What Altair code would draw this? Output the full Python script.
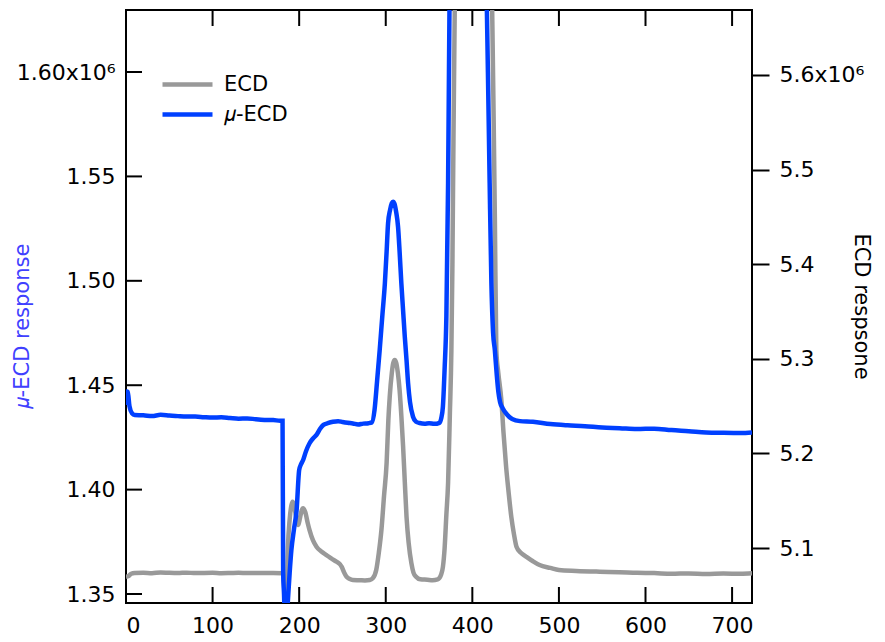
import altair as alt
import pandas as pd

# ECD (right axis, units of 1e6)
t_ecd = [0, 3, 6, 10, 20, 30, 40, 50, 60, 70, 80, 90, 100, 110, 120, 130, 140, 150, 160, 170, 180,
         181.5, 183, 184.5, 185.5, 187, 189, 191, 192.3, 194, 196, 198, 199, 201, 203, 204.5, 207, 210,
         212, 216, 220, 226, 231.5, 237, 243, 247, 249, 252, 254.6, 258, 262, 270, 276, 281.5, 285, 289,
         292, 295, 298, 301, 303, 304.6, 307, 308.5, 310.4, 312, 314, 316, 318, 320, 322, 324, 326.5,
         329.6, 332, 335, 340, 348, 354, 360, 364, 366, 368, 370, 372, 374, 375.8, 377, 380, 400, 420,
         426, 427.7, 430, 433.5, 436, 439, 442, 445, 448, 451, 456, 462, 470, 477.7, 490, 500, 520, 547,
         570, 590, 610, 630, 650, 670, 690, 710, 723]
ecd = [5.0697, 5.0705, 5.0728, 5.0736, 5.0738, 5.0734, 5.0742, 5.0738, 5.0736, 5.0740, 5.0735, 5.0737,
       5.0738, 5.0734, 5.0736, 5.0739, 5.0735, 5.0737, 5.0735, 5.0736, 5.0733,
       5.0715, 5.055, 5.035, 5.045, 5.100, 5.130, 5.145, 5.149, 5.146, 5.135, 5.126, 5.1244, 5.132,
       5.140, 5.142, 5.138, 5.126, 5.119, 5.108, 5.1014, 5.096, 5.0926, 5.089, 5.0856, 5.083, 5.0803,
       5.074, 5.0697, 5.0675, 5.0662, 5.0660, 5.0658, 5.0662, 5.068, 5.0768, 5.095, 5.119, 5.155,
       5.190, 5.235, 5.260, 5.285, 5.295, 5.2988, 5.296, 5.285, 5.267, 5.240, 5.208, 5.170, 5.133,
       5.105, 5.084, 5.074, 5.0697, 5.067, 5.0665, 5.066, 5.0668, 5.072, 5.080, 5.100, 5.135, 5.169,
       5.240, 5.309, 5.400, 5.700, 6.000, 5.800, 5.450, 5.309, 5.285, 5.2565, 5.222, 5.186, 5.158,
       5.133, 5.115, 5.1014, 5.095, 5.091, 5.086, 5.082, 5.079, 5.0768, 5.0758, 5.075, 5.0745, 5.0738,
       5.0735, 5.0728, 5.0732, 5.0726, 5.0730, 5.0728, 5.0733]

# mu-ECD (left axis, units of 1e6)
t_uecd = [0, 1, 2, 4, 7, 10, 20, 30, 40, 50, 60, 70, 80, 90, 100, 110, 120, 130, 140, 150, 160, 170,
          178, 180.8, 181.5, 182.5, 183.5, 185, 187, 189, 191, 194, 197, 200, 202, 204.6, 208, 212,
          216, 220, 224, 228, 233, 239, 245, 250, 256, 262, 268, 274, 280, 284, 287, 290, 293, 296,
          299, 301, 302.7, 305, 307, 308.4, 310, 312, 314.2, 316, 318, 320, 322, 324, 325.8, 328,
          331.5, 335, 339, 345, 350, 356, 362, 364, 366, 368, 370, 372, 373, 374, 378, 395, 410, 416,
          418, 420, 422, 424, 426, 428, 430, 432, 435, 440, 446, 455, 470, 490, 510, 530, 550, 570,
          590, 610, 630, 650, 670, 690, 710, 723]
uecd = [1.4405, 1.4470, 1.4468, 1.4400, 1.4365, 1.4357, 1.4356, 1.4352, 1.4358, 1.4355, 1.4352, 1.4350,
        1.4350, 1.4347, 1.4345, 1.4346, 1.4343, 1.4340, 1.4341, 1.4337, 1.4334, 1.4333,
        1.4330, 1.4330, 1.3607, 1.3500, 1.3380, 1.3360, 1.3470, 1.3600, 1.3710, 1.3810, 1.3900,
        1.4094, 1.4120, 1.4142, 1.4185, 1.4222, 1.4245, 1.4262, 1.4290, 1.4310, 1.4318, 1.4325,
        1.4328, 1.4324, 1.4320, 1.4317, 1.4312, 1.4316, 1.4318, 1.4322, 1.4380, 1.4520, 1.4668,
        1.4830, 1.4989, 1.5140, 1.5277, 1.5340, 1.5372, 1.5379, 1.5370, 1.5330, 1.5259, 1.5140,
        1.4989, 1.4860, 1.4732, 1.4620, 1.4510, 1.4420, 1.4349, 1.4325, 1.4319, 1.4316, 1.4318,
        1.4315, 1.4320, 1.4340, 1.4397, 1.4580, 1.4828, 1.5468, 1.6000, 1.6500, 1.8000, 2.0000,
        1.8500, 1.6500, 1.6000, 1.5470, 1.4989, 1.4750, 1.4668, 1.4560, 1.4470, 1.4420, 1.4390,
        1.4360, 1.4338, 1.4328, 1.4325, 1.4314, 1.4308, 1.4304, 1.4297, 1.4294, 1.4290, 1.4292,
        1.4285, 1.4280, 1.4274, 1.4272, 1.4271, 1.4274]

x_ticks = [0, 100, 200, 300, 400, 500, 600, 700]
left_ticks = [1.35, 1.40, 1.45, 1.50, 1.55, 1.60]
right_ticks = [5.1, 5.2, 5.3, 5.4, 5.5, 5.6]
series_names = ["ECD", "\U0001D707-ECD"]
series_colors = ["#999999", "#0040ff"]

W, H = 626, 593
FONT = "DejaVu Sans"

df_ecd = pd.DataFrame({"t": t_ecd, "v": ecd, "s": series_names[0]})
df_uecd = pd.DataFrame({"t": t_uecd, "v": uecd, "s": series_names[1]})
df_xt = pd.DataFrame({"t": x_ticks})
df_lt = pd.DataFrame({"v": left_ticks})

xscale = alt.Scale(domain=[0, 723], nice=False, zero=False)
lscale = alt.Scale(domain=[1.3457, 1.6297], nice=False, zero=False)
rscale = alt.Scale(domain=[5.0419, 5.6687], nice=False, zero=False)

x_axis = alt.Axis(title=None, values=x_ticks, ticks=False, tickSize=0, domain=False, grid=False,
                  labelPadding=12, labelFontSize=22, labelColor="black", labelFont=FONT)

color = alt.Color("s:N",
                  scale=alt.Scale(domain=series_names, range=series_colors),
                  legend=alt.Legend(title=None, orient="none", legendX=49, legendY=62,
                                    symbolType="M-2.5,0L2.5,0", symbolSize=400, symbolStrokeWidth=4.5,
                                    labelFontSize=21, labelFont=FONT, labelColor="black",
                                    labelOffset=24, rowPadding=7))

ecd_line = alt.Chart(df_ecd).mark_line(strokeWidth=4.5, clip=True, interpolate="monotone").encode(
    x=alt.X("t:Q", scale=xscale, axis=x_axis),
    y=alt.Y("v:Q", scale=rscale,
            axis=alt.Axis(orient="right", values=right_ticks, grid=False, domain=False,
                          ticks=True, tickSize=17, tickWidth=2, tickColor="black",
                          labelPadding=10, labelFontSize=22, labelFont=FONT, labelColor="black",
                          labelExpr="datum.value > 5.599 ? format(datum.value, '.1f') + 'x10\u2076' : format(datum.value, '.1f')",
                          title="ECD respsone", titleFontSize=21, titleFont=FONT,
                          titleFontWeight="normal", titleColor="black", titleBaseline="middle",
                          titleX=108, titleY=296)),
    color=color,
)

uecd_line = alt.Chart(df_uecd).mark_line(strokeWidth=4.5, clip=True, interpolate="monotone").encode(
    x=alt.X("t:Q", scale=xscale, axis=x_axis),
    y=alt.Y("v:Q", scale=lscale,
            axis=alt.Axis(orient="left", values=left_ticks, grid=False, domain=False,
                          ticks=False, tickSize=0,
                          labelPadding=11, labelFontSize=22, labelFont=FONT, labelColor="black",
                          labelExpr="datum.value > 1.599 ? format(datum.value, '.2f') + 'x10\u2076' : format(datum.value, '.2f')",
                          title="\U0001D707-ECD response", titleFontSize=21, titleFont=FONT,
                          titleFontWeight="normal", titleColor="#4040ff", titleBaseline="middle",
                          titleX=-104, titleY=316)),
    color=color,
)

bottom_ticks = alt.Chart(df_xt).mark_rule(color="black", strokeWidth=2).encode(
    x=alt.X("t:Q", scale=xscale, axis=x_axis),
    y=alt.value(H), y2=alt.value(H - 16),
)
top_ticks = alt.Chart(df_xt).mark_rule(color="black", strokeWidth=2).encode(
    x=alt.X("t:Q", scale=xscale, axis=x_axis),
    y=alt.value(0), y2=alt.value(16),
)
left_tick_marks = alt.Chart(df_lt).mark_rule(color="black", strokeWidth=2).encode(
    y=alt.Y("v:Q", scale=lscale, axis=None),
    x=alt.value(0), x2=alt.value(16),
)

chart = alt.layer(ecd_line, uecd_line, bottom_ticks, top_ticks, left_tick_marks).resolve_scale(
    y="independent"
).properties(
    width=W, height=H,
    autosize=alt.AutoSizeParams(type="none"),
    padding={"left": 118, "top": 2, "right": 125, "bottom": 38},
    background="white",
).configure(
    font=FONT
).configure_view(
    stroke="black", strokeWidth=2
)

chart.save("out.html", embed_options={"renderer": "svg", "actions": False})
